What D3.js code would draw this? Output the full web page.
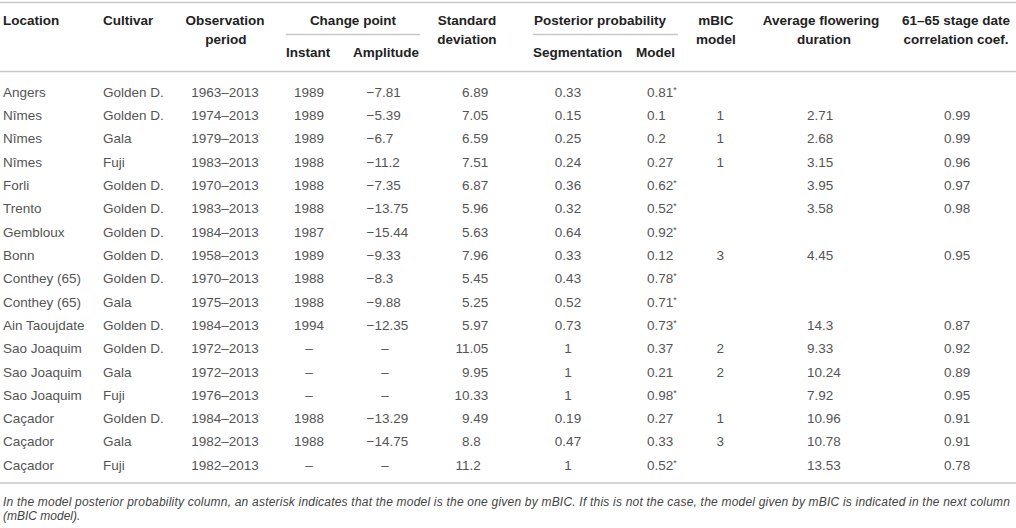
<!DOCTYPE html>
<html lang="en">
<head>
	<meta charset="UTF-8">
	<title>Change point analysis of flowering dates</title>
	<script src="https://d3js.org/d3.v7.min.js"></script>
	<style>
		body { margin: 0; background: #fff; }
		text { font-family: "Liberation Sans", Arial, sans-serif; }
	</style>
</head>
<body>

	<svg width="1016" height="528"></svg>

	<script>

		// table values, one array per column
		var locations = ["Angers", "Nîmes", "Nîmes", "Nîmes", "Forli", "Trento", "Gembloux", "Bonn",
			"Conthey (65)", "Conthey (65)", "Ain Taoujdate", "Sao Joaquim", "Sao Joaquim", "Sao Joaquim",
			"Caçador", "Caçador", "Caçador"];
		var cultivars = ["Golden D.", "Golden D.", "Gala", "Fuji", "Golden D.", "Golden D.", "Golden D.", "Golden D.",
			"Golden D.", "Gala", "Golden D.", "Golden D.", "Gala", "Fuji", "Golden D.", "Gala", "Fuji"];
		var periods = ["1963–2013", "1974–2013", "1979–2013", "1983–2013", "1970–2013", "1983–2013", "1984–2013",
			"1958–2013", "1970–2013", "1975–2013", "1984–2013", "1972–2013", "1972–2013", "1976–2013",
			"1984–2013", "1982–2013", "1982–2013"];
		var instants = [1989, 1989, 1989, 1988, 1988, 1988, 1987, 1989, 1988, 1988, 1994, null, null, null, 1988, 1988, null];
		var amplitudes = [-7.81, -5.39, -6.7, -11.2, -7.35, -13.75, -15.44, -9.33, -8.3, -9.88, -12.35,
			null, null, null, -13.29, -14.75, null];
		var stdDevs = [6.89, 7.05, 6.59, 7.51, 6.87, 5.96, 5.63, 7.96, 5.45, 5.25, 5.97, 11.05, 9.95, 10.33, 9.49, 8.8, 11.2];
		var segProbs = [0.33, 0.15, 0.25, 0.24, 0.36, 0.32, 0.64, 0.33, 0.43, 0.52, 0.73, 1, 1, 1, 0.19, 0.47, 1];
		var modelProbs = [0.81, 0.1, 0.2, 0.27, 0.62, 0.52, 0.92, 0.12, 0.78, 0.71, 0.73, 0.37, 0.21, 0.98, 0.27, 0.33, 0.52];
		var mbicAgrees = [true, false, false, false, true, true, true, false, true, true, true, false, false, true, false, false, true];
		var mbicModels = [null, 1, 1, 1, null, null, null, 3, null, null, null, 2, 2, null, 1, 3, null];
		var flowering = [null, 2.71, 2.68, 3.15, 3.95, 3.58, null, 4.45, null, null, 14.3, 9.33, 10.24, 7.92, 10.96, 10.78, 13.53];
		var correlations = [null, 0.99, 0.99, 0.96, 0.97, 0.98, null, 0.95, null, null, 0.87, 0.92, 0.89, 0.95, 0.91, 0.91, 0.78];

		var footnote1 = "In the model posterior probability column, an asterisk indicates that the model is the one given by mBIC. If this is not the case, the model given by mBIC is indicated in the next column";
		var footnote2 = "(mBIC model).";

		var svg = d3.select("svg");

		var ruleColor = "#c8c8c8",
			headColor = "#222",
			bodyColor = "#555";

		// row positions
		var yScale = d3.scalePoint()
			.domain(d3.range(locations.length))
			.range([92, 465]);

		function fmt(v) {
			if (v === null) return "–";
			return String(v).replace("-", "−");
		}

		// horizontal rules
		var rules = [
			{x1: 0, x2: 1016, y: 2.5},
			{x1: 286, x2: 420, y: 34.5},
			{x1: 533, x2: 678, y: 34.5},
			{x1: 0, x2: 1016, y: 71.5},
			{x1: 0, x2: 1016, y: 483}
		];
		svg.selectAll(".rule")
			.data(rules)
			.enter()
			.append("line")
			.attr("class", "rule")
			.attr("x1", function(d) { return d.x1; })
			.attr("x2", function(d) { return d.x2; })
			.attr("y1", function(d) { return d.y; })
			.attr("y2", function(d) { return d.y; })
			.attr("stroke", ruleColor)
			.attr("stroke-width", 1.5);

		// header
		var headers = [
			{t: "Location", x: 3, y: 20, a: "start"},
			{t: "Cultivar", x: 103, y: 20, a: "start"},
			{t: "Observation", x: 225, y: 20, a: "middle"},
			{t: "period", x: 226, y: 39, a: "middle"},
			{t: "Change point", x: 353, y: 20, a: "middle"},
			{t: "Instant", x: 286, y: 52, a: "start"},
			{t: "Amplitude", x: 419, y: 52, a: "end"},
			{t: "Standard", x: 467, y: 20, a: "middle"},
			{t: "deviation", x: 467, y: 39, a: "middle"},
			{t: "Posterior probability", x: 600, y: 20, a: "middle"},
			{t: "Segmentation", x: 533, y: 52, a: "start"},
			{t: "Model", x: 675, y: 52, a: "end"},
			{t: "mBIC", x: 716, y: 20, a: "middle"},
			{t: "model", x: 716, y: 39, a: "middle"},
			{t: "Average flowering", x: 821, y: 20, a: "middle"},
			{t: "duration", x: 824, y: 39, a: "middle"},
			{t: "61–65 stage date", x: 956, y: 20, a: "middle"},
			{t: "correlation coef.", x: 956, y: 39, a: "middle"}
		];
		svg.selectAll(".head")
			.data(headers)
			.enter()
			.append("text")
			.attr("class", "head")
			.attr("x", function(d) { return d.x; })
			.attr("y", function(d) { return d.y + 4.5; })
			.attr("text-anchor", function(d) { return d.a; })
			.style("font-size", "13.5px")
			.style("font-weight", "bold")
			.attr("fill", headColor)
			.text(function(d) { return d.t; });

		// body rows
		var rows = svg.selectAll(".row")
			.data(d3.range(locations.length))
			.enter()
			.append("g")
			.attr("class", "row")
			.attr("transform", function(i) { return "translate(0," + (yScale(i) + 4.8) + ")"; })
			.style("font-size", "13.5px")
			.attr("fill", bodyColor);

		function cell(x, anchor, getText) {
			rows.append("text")
				.attr("x", x)
				.attr("text-anchor", anchor)
				.text(getText);
		}

		cell(3, "start", function(i) { return locations[i]; });
		cell(103, "start", function(i) { return cultivars[i]; });
		cell(225, "middle", function(i) { return periods[i]; });
		cell(309, "middle", function(i) { return fmt(instants[i]); });

		// amplitude: values left aligned, dashes centred
		rows.append("text")
			.attr("x", function(i) { return amplitudes[i] === null ? 385 : 366.5; })
			.attr("text-anchor", function(i) { return amplitudes[i] === null ? "middle" : "start"; })
			.text(function(i) { return fmt(amplitudes[i]); });

		// standard deviation, aligned on the decimal point
		rows.append("text")
			.attr("x", 469.5)
			.attr("text-anchor", "end")
			.text(function(i) { return String(stdDevs[i]).split(".")[0]; });
		rows.append("text")
			.attr("x", 469.5)
			.attr("text-anchor", "start")
			.text(function(i) { return "." + String(stdDevs[i]).split(".")[1]; });

		cell(568, "middle", function(i) { return fmt(segProbs[i]); });

		// model probability with asterisk
		var model = rows.append("text")
			.attr("x", 647)
			.attr("text-anchor", "start");
		model.append("tspan")
			.text(function(i) { return fmt(modelProbs[i]); });
		model.append("tspan")
			.attr("dy", -4)
			.style("font-size", "9px")
			.text(function(i) { return mbicAgrees[i] ? "*" : ""; });

		cell(716.5, "start", function(i) { return mbicModels[i] === null ? "" : mbicModels[i]; });
		cell(807, "start", function(i) { return flowering[i] === null ? "" : flowering[i]; });
		cell(944, "start", function(i) { return correlations[i] === null ? "" : correlations[i]; });

		// footnote
		svg.append("text")
			.attr("x", 3)
			.attr("y", 506)
			.attr("textLength", 1007)
			.attr("lengthAdjust", "spacing")
			.style("font-size", "12px")
			.style("font-style", "italic")
			.attr("fill", "#444")
			.text(footnote1);

		svg.append("text")
			.attr("x", 3)
			.attr("y", 520)
			.style("font-size", "12px")
			.style("font-style", "italic")
			.attr("fill", "#444")
			.text(footnote2);

	</script>

</body>
</html>
